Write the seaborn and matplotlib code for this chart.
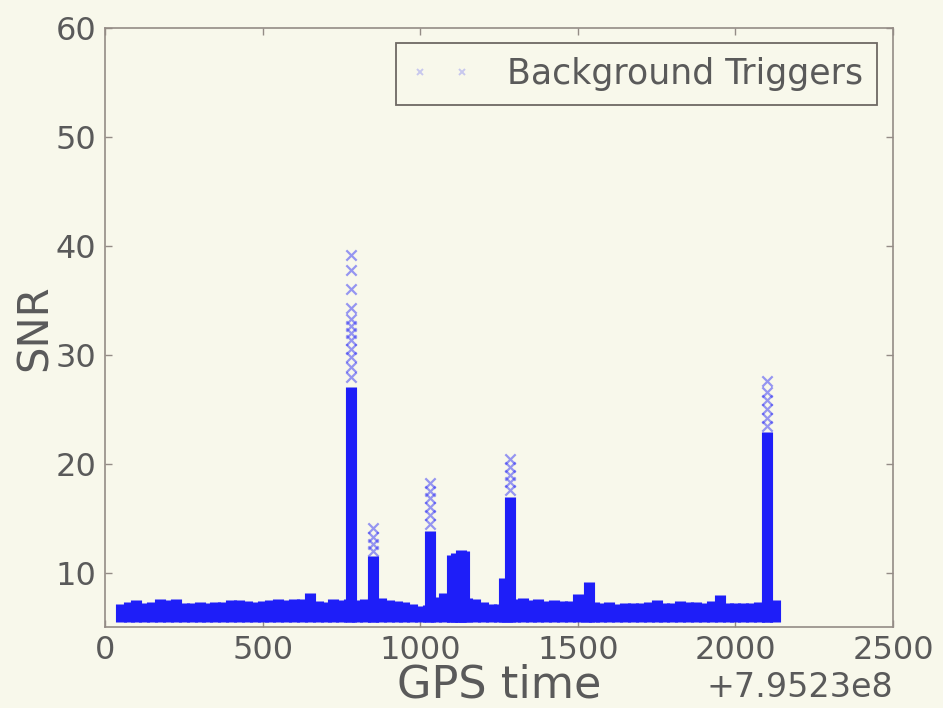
import matplotlib
matplotlib.use("Agg")
import matplotlib.pyplot as plt
from matplotlib.lines import Line2D
import numpy as np
import pandas as pd
import seaborn as sns

# GPS epoch offset for this stretch of data
GPS_OFFSET = 795230000

# Background trigger band: trigger time (s after offset) and loudest SNR in each slot
bg_time = [50, 75, 100, 125, 150, 175, 200, 225, 250, 275, 300, 325, 350, 375,
           400, 425, 450, 475, 500, 525, 550, 575, 600, 625, 650, 675, 700, 725,
           750, 775, 800, 825, 850, 875, 900, 925, 950, 975, 1000, 1025, 1050,
           1075, 1100, 1125, 1150, 1175, 1200, 1225, 1250, 1275, 1300, 1325,
           1350, 1375, 1400, 1425, 1450, 1475, 1500, 1525, 1550, 1575, 1600,
           1625, 1650, 1675, 1700, 1725, 1750, 1775, 1800, 1825, 1850, 1875,
           1900, 1925, 1950, 1975, 2000, 2025, 2050, 2075, 2100, 2125]
bg_snr = [7.1, 7.3, 7.5, 7.2, 7.3, 7.6, 7.5, 7.6, 7.2, 7.2, 7.3, 7.2, 7.3, 7.3,
          7.5, 7.5, 7.4, 7.3, 7.4, 7.5, 7.6, 7.5, 7.6, 7.6, 8.1, 7.4, 7.3, 7.6,
          7.5, 7.6, 7.5, 7.6, 7.7, 7.7, 7.5, 7.4, 7.3, 7.1, 6.9, 7.0, 7.8,
          8.1, 7.8, 7.8, 7.7, 7.6, 7.3, 7.1, 7.1, 7.5, 7.6, 7.7,
          7.5, 7.6, 7.4, 7.5, 7.4, 7.4, 8.0, 7.6, 7.3, 7.2, 7.3,
          7.1, 7.2, 7.2, 7.2, 7.3, 7.5, 7.2, 7.2, 7.4, 7.3, 7.3,
          7.2, 7.4, 7.9, 7.2, 7.2, 7.2, 7.2, 7.3, 7.5, 7.5]

# Loud glitch clusters: time and SNR reached by the densely packed triggers
glitch_time = [780, 850, 1030, 1100, 1115, 1130, 1140, 1265, 1285, 1535, 2100]
glitch_snr = [27.0, 11.5, 13.8, 11.6, 11.8, 12.1, 12.0, 9.5, 16.9, 9.1, 22.9]

# Sparser loud triggers above the dense part of each cluster
tail_time = ([780] * 12 + [850] * 4 + [1030] * 6 + [1285] * 5 + [2100] * 6)
tail_snr = ([28.0, 28.9, 29.8, 30.5, 31.4, 32.0, 32.6, 33.3, 34.3, 36.0, 37.8, 39.2]
            + [12.0, 12.6, 13.3, 14.1]
            + [14.5, 15.3, 16.0, 16.8, 17.5, 18.2]
            + [17.6, 18.3, 19.0, 19.7, 20.4]
            + [23.5, 24.2, 25.0, 25.8, 26.6, 27.6])

SNR_THRESHOLD = 5.5
x_ticks = [0, 500, 1000, 1500, 2000, 2500]
y_ticks = [10, 20, 30, 40, 50, 60]

BG = "#f8f8eb"
BLUE = "#1e1ef8"
INK = "#5a5a5a"
EDGE = "#948c86"

sns.set_style("ticks", {"axes.facecolor": BG, "figure.facecolor": BG,
                        "axes.edgecolor": EDGE, "xtick.color": EDGE,
                        "ytick.color": EDGE, "xtick.direction": "in",
                        "ytick.direction": "in", "text.color": INK,
                        "axes.labelcolor": INK})
plt.rcParams["font.family"] = ["DejaVu Sans"]

fig = plt.figure(figsize=(9.43, 7.08), dpi=100)
ax = fig.add_axes([0.1113, 0.1144, 0.8357, 0.846])

trig = pd.DataFrame({"gps": np.array(bg_time + glitch_time) + GPS_OFFSET,
                     "snr": bg_snr + glitch_snr})
tails = pd.DataFrame({"gps": np.array(tail_time) + GPS_OFFSET, "snr": tail_snr})

# dense trigger columns
ax.vlines(trig["gps"], SNR_THRESHOLD, trig["snr"], colors=BLUE, linewidth=8,
          zorder=2)
# individual loud triggers
sns.scatterplot(data=tails, x="gps", y="snr", ax=ax, marker="x", s=55,
                color=BLUE, alpha=0.45, linewidth=1.6, legend=False, zorder=3)

ax.set_xlim(GPS_OFFSET, GPS_OFFSET + 2500)
ax.set_ylim(5, 60)
ax.set_xticks([GPS_OFFSET + t for t in x_ticks])
ax.set_yticks(y_ticks)
ax.ticklabel_format(axis="x", useOffset=GPS_OFFSET, style="plain")
ax.tick_params(axis="both", which="both", top=True, right=True, length=5,
               width=1, labelsize=23, labelcolor=INK, pad=6)
ax.xaxis.get_offset_text().set_fontsize(24)
ax.xaxis.get_offset_text().set_color(INK)
for sp in ax.spines.values():
    sp.set_visible(True)
    sp.set_color(EDGE)
    sp.set_linewidth(1.2)

ax.set_xlabel("GPS time", fontsize=32, color=INK, labelpad=-2)
ax.set_ylabel("SNR", fontsize=30, color=INK, labelpad=0)

handle = Line2D([], [], linestyle="none", marker="x", markersize=5,
                markeredgewidth=1.4, color=BLUE, alpha=0.22)
leg = ax.legend([handle], ["Background Triggers"], loc="upper right",
                bbox_to_anchor=(0.9797, 0.975), borderaxespad=0, numpoints=2,
                fontsize=25, frameon=True, fancybox=False, framealpha=1,
                facecolor=BG, edgecolor="#6e6863", labelcolor=INK,
                handlelength=1.8, handletextpad=1.0)
leg.get_frame().set_linewidth(1.3)

fig.savefig("out.png", dpi=100, facecolor=BG)
